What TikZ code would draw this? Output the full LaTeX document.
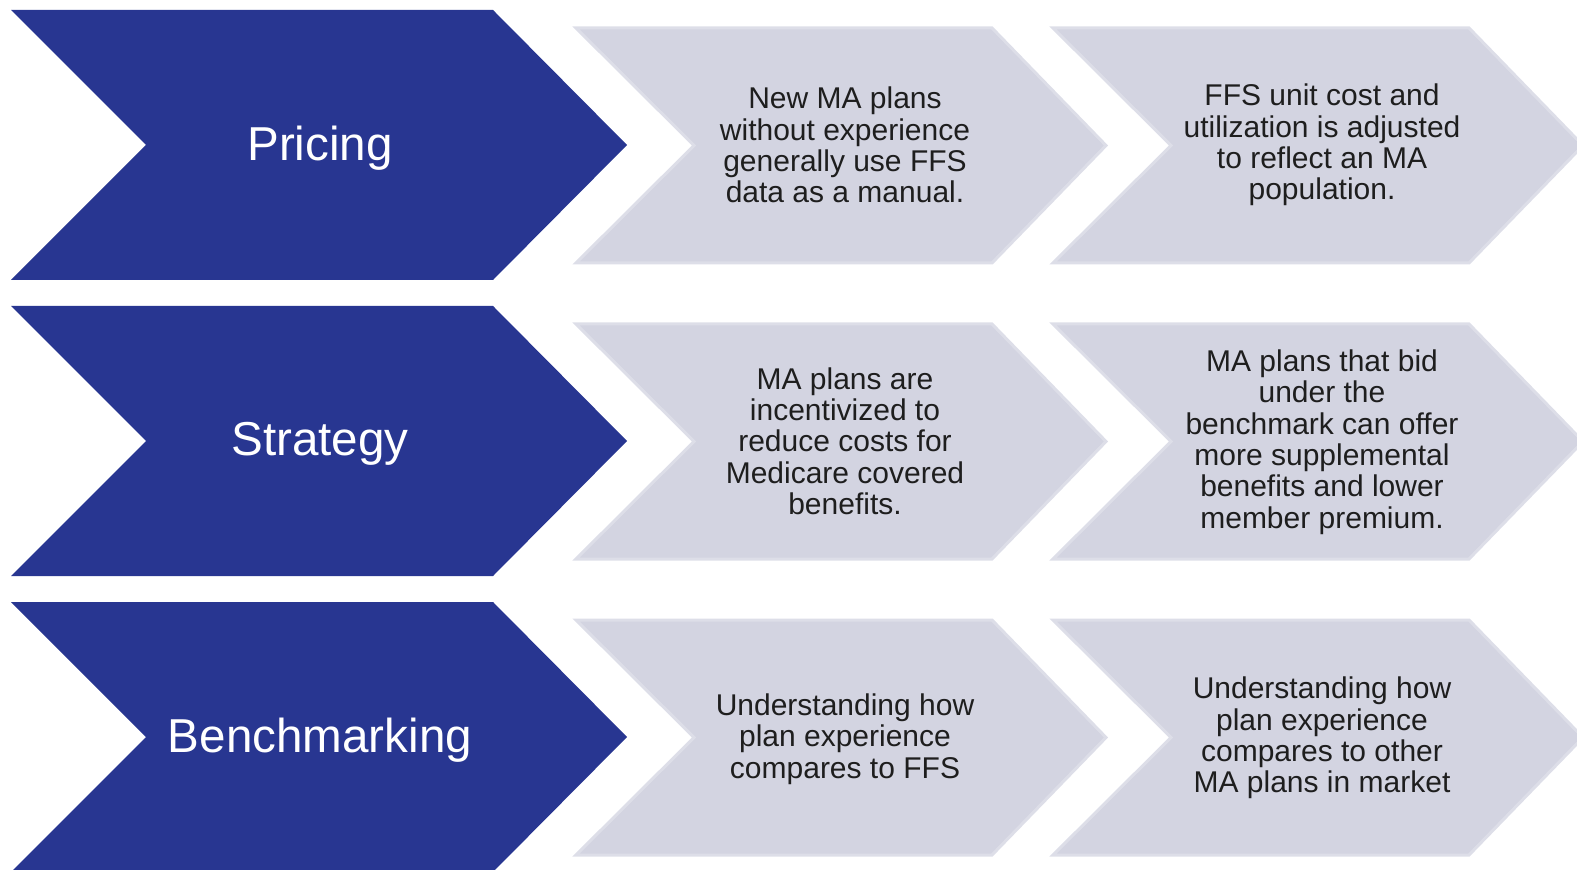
\documentclass[tikz,border=0pt]{standalone}
\usepackage{fontspec}
\setmainfont{Liberation Sans}
\usepackage{tikz}
\usetikzlibrary{calc,positioning}
\definecolor{chevblue}{RGB}{40,54,145}
\definecolor{chevgrey}{RGB}{211,212,225}
\definecolor{chevedge}{RGB}{221,222,232}
\definecolor{desctext}{RGB}{30,30,30}

\begin{document}
\begin{tikzpicture}[x=0.5pt,y=-0.5pt,
  bluechev/.style={fill=chevblue},
  greychev/.style={fill=chevgrey,draw=chevedge,line width=1.5pt,line join=miter},
  title/.style={text=white,font=\fontsize{23.8pt}{28pt}\selectfont,align=center},
  desc/.style={text=desctext,font=\fontsize{15pt}{15.65pt}\selectfont,align=center}]
\useasboundingbox (0,0) rectangle (1577,870);
\clip (0,0) rectangle (1577,870);
% row 1
\fill[bluechev] (11,10) -- ++(482,0) -- ++(134,135) -- ++(-134,135) -- ++(-482,0) -- ++(135,-135) -- cycle;
\draw[greychev] (576,28) -- ++(416,0) -- ++(114,117.5) -- ++(-114,117.5) -- ++(-416,0) -- ++(118,-117.5) -- cycle;
\draw[greychev] (1053,28) -- ++(416,0) -- ++(114,117.5) -- ++(-114,117.5) -- ++(-416,0) -- ++(118,-117.5) -- cycle;
\node[title] (pricing) at (320,148) {Pricing};
\node[desc] (pricing1) at (845,145) {New MA plans\\without experience\\generally use FFS\\data as a manual.};
\node[desc] (pricing2) at (1322,145) {FFS unit cost and\\utilization is adjusted\\to reflect an MA\\population.};
% row 2
\fill[bluechev] (11,306) -- ++(482,0) -- ++(134,135) -- ++(-134,135) -- ++(-482,0) -- ++(135,-135) -- cycle;
\draw[greychev] (576,324) -- ++(416,0) -- ++(114,117.5) -- ++(-114,117.5) -- ++(-416,0) -- ++(118,-117.5) -- cycle;
\draw[greychev] (1053,324) -- ++(416,0) -- ++(114,117.5) -- ++(-114,117.5) -- ++(-416,0) -- ++(118,-117.5) -- cycle;
\node[title] (strategy) at (320,444) {Strategy};
\node[desc] (strategy1) at (845,441) {MA plans are\\incentivized to\\reduce costs for\\Medicare covered\\benefits.};
\node[desc] (strategy2) at (1322,442) {MA plans that bid\\under the\\benchmark can offer\\more supplemental\\benefits and lower\\member premium.};
% row 3
\fill[bluechev] (11,602) -- ++(482,0) -- ++(134,135) -- ++(-134,135) -- ++(-482,0) -- ++(135,-135) -- cycle;
\draw[greychev] (576,620) -- ++(416,0) -- ++(114,117.5) -- ++(-114,117.5) -- ++(-416,0) -- ++(118,-117.5) -- cycle;
\draw[greychev] (1053,620) -- ++(416,0) -- ++(114,117.5) -- ++(-114,117.5) -- ++(-416,0) -- ++(118,-117.5) -- cycle;
\node[title] (benchmarking) at (320,740) {Benchmarking};
\node[desc] (benchmarking1) at (845,739) {Understanding how\\plan experience\\compares to FFS};
\node[desc] (benchmarking2) at (1322,738) {Understanding how\\plan experience\\compares to other\\MA plans in market};
\end{tikzpicture}
\end{document}
